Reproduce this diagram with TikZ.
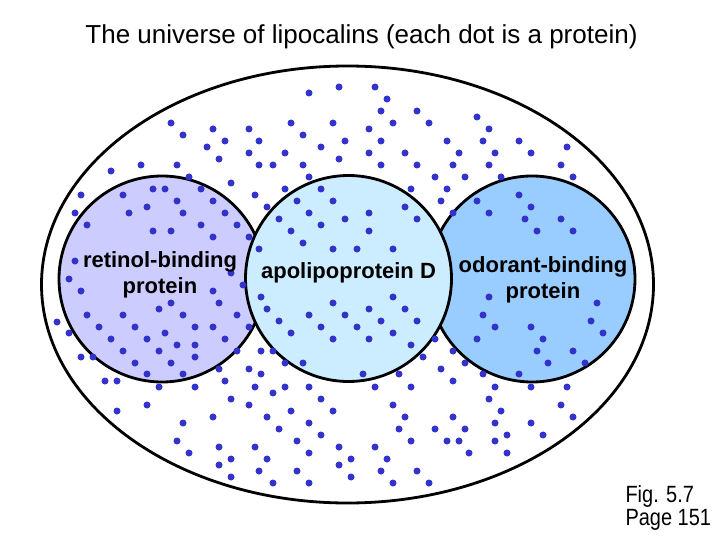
\documentclass[tikz,border=0pt]{standalone}
\usepackage{fontspec}
\setmainfont{Liberation Sans}
\newfontfamily\lcnarrow{Liberation Sans}[FakeStretch=0.85]
\definecolor{lcink}{HTML}{000000}
\definecolor{lcdot}{HTML}{3333CC}
\definecolor{lcrbpfill}{HTML}{CCCCFF}
\definecolor{lcapodfill}{HTML}{CCECFF}
\definecolor{lcobpfill}{HTML}{99CCFF}
\tikzset{
  lcfamily/.style={
    draw=lcink, circle, line width=2.8pt, minimum size=206pt,
    inner sep=0pt},
  lcprotein/.style={fill=lcdot},
  lclabel/.style={
    anchor=base, font=\fontsize{22}{26}\selectfont\bfseries, text=lcink},
  lctitle/.style={
    anchor=base, font=\fontsize{26}{30}\selectfont, text=lcink},
  lcnote/.style={
    anchor=base west, font=\lcnarrow\fontsize{23.5}{23}\selectfont,
    text=lcink},
}

\begin{document}
\begin{tikzpicture}[x=1pt, y=-1pt]
\useasboundingbox (0,0) rectangle (720,540);

% Header.
\node[lctitle] (title) at (361.5, 44)
  {The universe of lipocalins (each dot is a protein)};

% The whole family.
\draw[draw=lcink, line width=2.8pt] (347.5, 284.5)
  ellipse [x radius=306, y radius=218.5];

% The three sub-families; the middle one lies on top.
\node[lcfamily, fill=lcrbpfill] (rbp) at (162, 279) {};
\node[lcfamily, fill=lcobpfill] (obp) at (532, 279) {};
\node[lcfamily, fill=lcapodfill] (apod) at (348.5, 278.5) {};

% One dot per protein.
\foreach \px/\py in {
  171/123, 183/135, 213/129, 249/129, 225/141, 207/147, 259/141, 249/153,
  219/159, 259/165, 309/93, 339/87, 375/87, 387/99, 381/111, 417/111,
  291/123, 333/123, 369/129, 393/123, 429/123, 303/135, 345/141, 381/141,
  447/141, 285/153, 321/147, 369/153, 405/153, 459/153, 273/165, 303/165,
  339/159, 381/165, 417/165, 453/165, 477/117, 489/129, 483/141, 519/141,
  495/153, 531/153, 567/147, 489/165, 561/165,
  111/171, 141/165, 177/165, 189/177, 231/183, 309/177, 435/177, 465/177,
  501/177, 573/177, 81/195, 123/195, 153/189, 165/189, 177/201, 201/189,
  213/201, 255/195, 75/213, 129/213, 147/207, 183/213, 225/213, 87/225,
  201/225, 237/225, 153/231, 171/231, 213/237, 249/237, 75/261, 259/249,
  69/279, 231/273, 81/291, 213/291, 243/285, 171/303, 159/309, 219/303,
  87/315, 123/315, 183/315, 237/315, 99/327, 135/327, 195/327, 213/327,
  249/327, 69/333, 111/339, 147/339, 165/333, 177/345, 195/345, 225/339,
  123/351, 159/351, 237/351, 81/357, 93/357, 135/363, 171/363, 195/357,
  147/374, 183/374, 219/369, 249/369, 105/381, 117/381, 159/387, 195/387,
  225/381, 255/387, 57/322,
  285/189, 321/189, 411/189, 447/189, 297/201, 333/201, 441/201, 267/207,
  309/213, 369/213, 405/207, 453/213, 279/219, 345/219, 417/219, 321/225,
  291/231, 369/231, 303/243, 333/249, 357/249, 393/249, 261/297, 393/297,
  267/309, 333/303, 369/309, 405/309, 279/321, 309/315, 345/315, 381/321,
  417/321, 321/327, 357/327, 291/333, 393/333, 333/339, 369/339, 435/339,
  411/345, 261/351, 273/351, 453/351, 285/363, 303/363, 423/357, 261/374,
  363/374, 399/374, 441/369, 453/381, 285/387, 309/387, 375/387, 411/387,
  477/201, 519/195, 531/207, 489/213, 525/219, 561/219, 537/231, 573/231,
  489/297, 483/315, 495/327, 531/327, 597/303, 591/321, 603/333, 477/339,
  543/339, 537/351, 573/351, 465/363, 548/363, 585/363, 483/374, 519/374,
  495/387, 531/387, 567/387,
  231/399, 249/405, 147/405, 117/411, 213/417, 183/423, 177/441, 189/453,
  219/447, 255/447, 231/459, 219/465, 259/471, 231/477, 273/393, 321/399,
  291/411, 333/411, 267/417, 309/423, 393/405, 405/417, 453/417, 279/429,
  321/435, 399/429, 435/429, 465/429, 297/441, 411/441, 447/441, 459/441,
  339/447, 375/447, 309/453, 267/459, 351/459, 387/459, 469/453, 339/465,
  297/471, 381/471, 417/471, 351/477, 273/483, 309/483, 393/483, 429/483,
  489/399, 561/405, 501/411, 573/417, 495/423, 531/423, 507/435, 543/435,
  495/441, 507/453}
  \fill[lcprotein] (\px, \py) circle (3.5);

% Sub-family names.
\node[lclabel] (rbptop) at (160, 267) {retinol-binding};
\node[lclabel] (rbpbot) at (160, 293) {protein};
\node[lclabel] (apodname) at (348.5, 278) {apolipoprotein D};
\node[lclabel] (obptop) at (543, 272) {odorant-binding};
\node[lclabel] (obpbot) at (543, 298) {protein};

% Source.
\node[lcnote] (fignum) at (622, 502) {Fig. 5.7};
\node[lcnote] (pagenum) at (622, 525) {Page 151};

\end{tikzpicture}
\end{document}
